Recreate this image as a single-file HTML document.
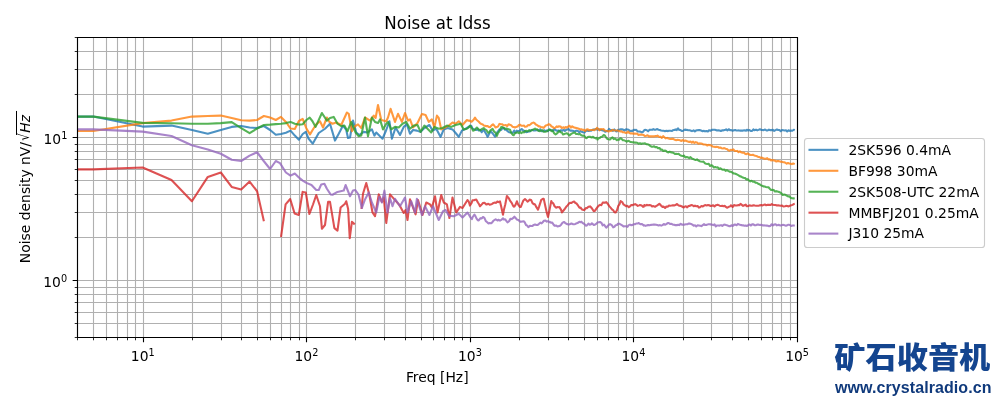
<!DOCTYPE html>
<html lang="en"><head><meta charset="utf-8"><title>Noise at Idss</title>
<style>html,body{margin:0;padding:0;background:#fff;overflow:hidden}svg{display:block}</style></head>
<body>
<svg width="1000" height="400" viewBox="0 0 1000 400">
<defs><clipPath id="axclip"><rect x="77.45" y="37.20" width="719.57" height="299.80"/></clipPath></defs>
<rect width="1000" height="400" fill="#ffffff"/>
<path d="M77.5 37.5V337.5M93.5 37.5V337.5M106.5 37.5V337.5M117.5 37.5V337.5M127.5 37.5V337.5M135.5 37.5V337.5M143.5 37.5V337.5M192.5 37.5V337.5M221.5 37.5V337.5M241.5 37.5V337.5M257.5 37.5V337.5M270.5 37.5V337.5M281.5 37.5V337.5M290.5 37.5V337.5M299.5 37.5V337.5M306.5 37.5V337.5M355.5 37.5V337.5M384.5 37.5V337.5M405.5 37.5V337.5M421.5 37.5V337.5M433.5 37.5V337.5M444.5 37.5V337.5M454.5 37.5V337.5M462.5 37.5V337.5M470.5 37.5V337.5M519.5 37.5V337.5M548.5 37.5V337.5M568.5 37.5V337.5M584.5 37.5V337.5M597.5 37.5V337.5M608.5 37.5V337.5M618.5 37.5V337.5M626.5 37.5V337.5M633.5 37.5V337.5M683.5 37.5V337.5M711.5 37.5V337.5M732.5 37.5V337.5M748.5 37.5V337.5M761.5 37.5V337.5M772.5 37.5V337.5M781.5 37.5V337.5M790.5 37.5V337.5M797.5 37.5V337.5M77.5 337.5H797.5M77.5 323.5H797.5M77.5 312.5H797.5M77.5 302.5H797.5M77.5 294.5H797.5M77.5 287.5H797.5M77.5 280.5H797.5M77.5 237.5H797.5M77.5 212.5H797.5M77.5 194.5H797.5M77.5 180.5H797.5M77.5 169.5H797.5M77.5 159.5H797.5M77.5 151.5H797.5M77.5 144.5H797.5M77.5 137.5H797.5M77.5 94.5H797.5M77.5 69.5H797.5M77.5 51.5H797.5M77.5 37.5H797.5" fill="none" stroke="#b0b0b0" stroke-width="1.11"/>
<g clip-path="url(#axclip)" fill="none" stroke-width="2.083" stroke-opacity="0.8" stroke-linejoin="round" stroke-linecap="butt">
<path d="M77.50 116.60L93.40 116.60L142.65 126.60L171.50 125.60L191.90 130.00L207.80 133.75L220.80 130.00L231.70 126.90L241.20 126.00L249.60 127.50L257.10 128.10L263.90 126.00L270.10 130.00L275.80 134.75L281.00 134.00L285.90 132.75L290.50 130.60L294.80 135.60L298.90 139.75L302.70 134.00L305.80 131.90L308.50 138.50L312.70 143.70L318.75 133.00L325.00 128.75L330.00 123.75L335.00 140.60L338.75 133.75L343.00 125.60L346.25 130.00L348.00 138.00L350.00 137.50L353.00 120.60L356.25 132.50L359.40 135.00L363.75 131.90L367.50 132.50L371.90 129.40L374.40 135.60L376.25 132.50L378.75 135.00L382.50 138.75L386.25 130.00L389.40 121.25L391.90 138.75L395.60 127.50L400.00 135.00L403.75 126.90L406.90 124.40L410.00 133.75L413.00 130.00L416.90 130.60L420.30 131.90L424.40 128.00L429.40 125.00L432.50 130.60L436.25 128.75L440.60 136.90L443.75 129.40L447.50 128.00L452.50 129.40L456.25 133.75L458.75 136.90L461.90 130.60L465.60 128.75L470.00 126.25L471.30 125.81L472.60 128.68L473.75 129.28L475.20 129.48L476.50 129.93L477.80 129.17L478.75 130.55L480.40 129.89L481.70 132.23L483.00 130.22L483.75 129.93L484.30 130.84L485.60 133.01L486.90 135.17L487.50 136.82L488.20 135.91L489.50 133.11L490.60 131.45L492.10 132.84L493.40 134.45L495.00 136.57L496.00 135.02L497.30 132.37L498.60 130.54L499.40 129.51L501.20 129.97L502.50 128.24L503.75 127.95L505.10 129.76L506.40 129.77L507.50 131.19L509.00 132.27L510.30 132.53L511.25 132.52L512.90 132.70L514.20 130.48L515.50 132.59L516.25 131.70L516.80 130.64L518.10 131.14L519.40 130.74L521.25 129.31L522.00 129.14L523.30 130.44L524.60 131.04L526.25 132.19L527.20 132.05L528.50 131.33L529.80 131.47L531.10 130.31L532.50 129.81L533.70 130.46L535.00 130.58L536.30 130.24L537.60 130.03L538.75 130.65L540.20 129.30L541.50 131.29L542.80 131.31L544.10 130.20L545.00 131.26L546.70 130.43L548.00 131.24L549.30 129.42L550.60 129.88L552.00 130.34L553.20 130.99L554.50 129.20L555.80 130.29L557.10 130.90L558.40 130.49L560.00 131.32L561.00 130.13L562.30 130.78L563.60 129.74L564.90 130.92L566.20 129.85L567.50 129.41L568.75 129.05L570.10 130.67L571.40 130.42L572.70 130.71L574.00 131.21L575.30 131.05L576.00 130.87L576.60 130.66L577.90 130.91L579.20 132.41L580.50 131.03L581.80 131.78L583.10 132.19L583.75 132.55L584.40 132.62L585.70 131.16L587.00 130.47L588.30 131.04L590.00 130.74L590.90 130.72L592.20 130.10L593.50 129.48L594.80 129.52L596.25 128.95L597.40 129.72L598.70 129.09L600.00 129.91L601.30 130.06L603.00 130.61L603.90 130.56L605.20 131.78L606.50 131.09L607.80 131.00L609.10 128.92L610.00 129.93L611.70 129.94L613.00 130.80L614.30 129.45L616.00 131.23L616.90 131.37L618.20 129.74L619.50 129.60L620.80 129.38L622.50 129.41L623.40 129.75L624.70 130.52L626.00 129.29L627.50 129.55L628.60 129.75L629.90 130.93L631.20 130.69L632.50 130.86L633.80 129.81L635.10 130.08L636.25 129.85L637.70 131.44L639.00 131.57L640.30 131.63L641.90 132.42L642.90 131.95L644.20 130.28L645.00 129.83L646.80 130.25L648.10 131.29L649.40 129.87L650.70 129.71L652.50 129.79L653.30 129.13L654.60 129.79L655.90 129.67L656.90 129.00L658.50 129.74L659.80 130.10L661.10 130.57L662.50 130.73L663.70 130.81L665.00 131.15L666.30 130.74L668.00 131.12L668.90 130.70L670.20 130.81L672.00 130.95L672.80 130.28L674.10 129.88L675.40 129.84L676.00 129.31L676.70 130.13L678.00 128.43L679.00 129.75L680.60 130.11L682.00 131.02L683.20 130.73L685.00 129.49L685.80 130.00L687.10 129.87L688.00 130.28L689.70 130.29L691.00 130.68L692.00 131.14L693.60 130.35L694.90 131.36L696.20 130.49L697.00 130.17L698.80 130.10L700.10 130.16L701.00 130.53L702.70 131.20L704.00 130.82L705.00 131.36L706.60 130.93L707.90 131.43L709.00 130.29L710.50 130.80L711.80 129.90L713.10 129.67L714.40 129.70L715.00 129.80L715.70 130.10L717.00 130.58L718.30 130.22L719.60 130.50L720.90 131.03L722.00 130.35L723.50 130.34L724.80 130.06L726.10 129.38L727.40 130.46L728.70 129.21L730.00 130.11L731.30 130.07L732.60 130.70L733.90 130.21L735.20 129.94L736.50 130.58L738.00 130.41L739.10 130.46L740.40 130.61L741.70 130.58L743.00 130.60L744.30 130.35L746.00 130.77L746.90 129.73L748.20 130.56L749.50 129.98L750.80 130.96L752.10 130.94L753.40 129.34L754.00 130.22L754.70 130.12L756.00 129.66L757.30 130.36L758.60 129.87L759.90 129.23L761.20 129.90L762.00 129.98L763.80 130.09L765.10 129.51L766.40 130.39L767.70 130.48L769.00 129.65L770.00 130.09L771.60 130.12L772.90 129.87L774.20 130.90L775.50 130.16L776.80 129.57L778.00 129.87L779.40 130.03L780.70 131.15L782.00 130.07L783.30 130.26L784.60 130.48L786.00 130.29L787.20 131.41L788.50 130.21L789.80 130.87L791.00 130.63L792.40 130.73L793.70 129.78L794.75 130.28" stroke="#1f77b4"/>
<path d="M77.50 131.00L93.40 131.00L142.65 123.10L171.50 120.60L191.90 116.60L207.80 116.00L220.80 115.60L231.70 118.10L241.20 120.25L249.60 120.60L257.10 120.00L263.90 116.00L270.10 117.50L275.80 120.00L281.00 116.90L285.90 121.90L290.50 128.50L294.80 129.00L298.90 121.00L302.70 118.90L306.40 128.50L310.00 134.40L313.20 129.00L316.25 124.40L320.00 121.25L323.00 127.50L326.90 117.50L329.40 121.90L332.50 123.75L336.25 122.50L341.25 125.00L346.90 112.50L348.75 113.75L351.90 131.25L355.00 126.25L358.00 124.40L361.25 128.00L365.00 117.50L370.00 120.60L373.75 115.60L375.60 118.00L378.00 105.00L381.25 120.00L386.25 121.25L388.00 117.50L390.60 108.75L395.00 121.90L398.00 113.75L401.90 121.90L405.00 113.00L408.00 120.60L410.00 119.40L413.00 127.50L417.50 123.00L421.90 114.00L425.60 115.00L428.75 121.90L431.90 119.40L434.40 127.50L436.90 115.60L438.75 118.00L441.25 129.40L445.00 127.50L448.75 125.60L452.50 122.50L455.60 123.75L458.75 121.25L462.50 125.00L466.90 120.00L468.20 120.59L469.50 120.58L471.25 121.75L472.10 121.24L473.40 119.97L475.00 117.66L476.00 119.32L477.30 120.46L478.60 121.48L480.00 123.17L481.20 123.98L482.50 124.24L483.80 125.41L485.00 125.87L486.40 126.10L487.70 126.09L489.00 127.07L490.00 127.30L491.60 125.44L493.00 124.38L494.20 125.46L495.50 127.51L496.25 127.12L496.80 127.17L498.10 126.36L499.40 123.87L500.00 124.06L500.70 124.33L502.00 124.17L503.30 125.09L505.00 125.28L505.90 125.05L507.20 126.15L508.50 124.23L510.00 124.78L511.10 125.14L512.40 126.71L513.70 127.09L515.00 127.54L516.30 126.88L517.60 126.55L518.90 124.98L520.00 124.72L521.50 125.79L522.80 125.68L524.10 125.56L525.00 126.76L526.70 126.55L528.00 125.12L529.30 125.30L530.00 124.71L530.60 124.23L531.90 123.13L533.20 122.62L534.40 122.99L535.80 124.56L537.10 125.17L538.75 126.36L539.70 126.32L541.00 127.21L542.30 127.22L543.75 127.93L544.90 126.42L546.20 125.32L547.50 125.02L548.75 124.17L550.10 124.68L551.40 126.43L552.70 126.79L553.75 128.09L555.30 127.65L556.60 126.42L557.90 126.91L558.75 126.32L560.50 126.47L561.80 127.96L563.10 127.32L563.75 127.38L564.40 128.23L565.70 126.96L567.00 127.72L568.75 126.12L569.60 125.74L570.90 127.57L572.20 126.32L573.50 127.32L575.00 127.79L576.10 127.90L577.40 128.18L578.70 128.68L580.00 129.50L581.25 129.24L582.60 129.84L583.90 129.91L585.20 131.01L586.50 129.57L587.80 129.33L589.10 130.36L590.00 129.92L591.70 130.00L593.00 129.79L594.30 130.25L595.60 129.09L596.25 129.38L596.90 127.94L598.20 128.89L599.50 130.28L600.80 129.01L602.50 129.26L603.40 129.04L604.70 130.54L606.00 130.80L607.50 131.02L608.60 131.40L609.90 130.92L611.20 130.93L612.50 129.89L613.75 130.34L615.10 130.50L616.40 130.47L617.70 130.50L619.00 130.91L620.00 131.42L621.60 131.37L622.90 132.32L624.20 132.27L625.50 132.90L626.80 132.83L627.50 132.49L628.10 131.56L629.40 132.98L630.70 133.46L632.00 133.34L633.30 133.77L635.00 133.66L635.90 133.70L637.20 133.61L638.50 135.06L639.80 134.63L641.10 134.51L642.50 134.75L643.70 135.06L645.00 136.06L646.30 135.70L647.60 135.23L648.90 136.51L650.00 136.16L651.50 136.37L652.80 136.23L654.10 136.39L655.40 136.04L656.70 136.12L657.50 135.56L659.30 136.95L660.60 136.64L661.90 137.90L663.20 136.18L665.00 137.83L665.80 138.33L667.10 137.88L668.40 138.49L669.70 138.86L671.00 138.99L672.30 138.65L673.60 139.06L674.90 139.86L676.20 140.20L677.50 139.83L678.80 140.04L680.10 140.32L681.40 140.94L682.70 140.13L683.30 140.52L684.00 140.93L685.30 140.56L686.60 141.04L687.90 141.60L689.20 142.02L690.50 141.49L691.80 142.63L693.10 141.61L694.40 142.96L695.70 142.16L697.00 142.54L698.30 143.69L699.60 143.41L700.90 143.45L702.20 143.85L703.50 144.52L704.80 144.50L706.10 144.74L707.40 145.49L708.70 144.86L710.00 145.21L711.50 145.61L712.60 146.50L713.90 146.69L715.20 147.11L716.50 146.76L717.80 146.97L719.10 147.74L720.40 147.42L721.70 148.28L723.00 148.51L724.30 148.11L725.60 148.68L726.90 148.94L728.20 150.10L729.50 150.79L730.80 149.79L732.50 150.20L733.40 149.35L734.70 150.86L736.00 151.08L737.30 150.91L738.60 152.11L739.90 151.34L741.20 152.30L742.50 152.80L743.80 152.47L745.10 153.79L746.40 154.21L747.70 153.40L748.50 154.02L750.30 154.95L751.60 154.96L752.90 154.72L754.20 155.45L755.50 155.84L756.80 156.13L758.10 156.88L759.40 156.98L760.70 157.93L761.30 157.47L762.00 157.74L763.30 158.24L764.60 158.67L765.90 158.71L767.20 158.13L768.50 159.41L769.80 159.37L771.10 160.40L772.50 160.02L773.70 160.47L775.00 160.64L776.30 161.51L777.60 161.07L778.90 161.12L780.20 161.64L781.50 161.68L782.80 162.10L784.10 162.30L785.40 162.70L786.70 163.73L788.00 162.94L789.30 163.42L790.70 163.67L791.90 164.15L793.20 163.47L794.75 164.17" stroke="#ff7f0e"/>
<path d="M77.50 116.60L93.40 116.60L142.65 122.90L171.50 123.25L191.90 123.75L207.80 123.75L220.80 123.10L231.70 122.10L241.20 128.10L249.60 133.10L257.10 128.50L263.90 125.00L270.10 124.60L275.80 124.10L281.00 123.75L285.90 123.10L290.50 121.90L294.80 123.75L298.90 124.60L302.70 124.20L306.40 120.00L309.70 117.70L312.50 121.25L315.60 126.90L321.90 113.00L326.90 120.60L330.00 118.00L333.75 116.90L337.50 123.75L341.25 126.25L344.40 125.60L347.50 131.25L351.25 121.90L355.60 132.50L358.75 136.25L361.25 135.60L365.00 117.50L368.00 136.25L371.90 117.50L375.00 121.90L378.00 123.00L380.00 119.40L383.00 129.40L386.25 123.75L388.00 121.90L391.25 129.40L395.00 126.90L398.75 127.50L402.50 123.75L406.25 121.90L410.00 128.75L413.75 125.60L417.50 125.00L420.60 131.90L424.40 125.60L427.50 128.75L431.25 132.50L434.40 126.90L438.75 128.75L442.50 128.00L446.90 125.60L451.25 126.90L455.60 125.00L460.60 123.75L463.75 129.40L466.90 128.75L468.20 127.76L470.00 125.59L470.80 126.63L472.10 128.58L473.00 130.71L474.70 130.11L476.00 128.41L476.90 127.54L478.60 129.47L480.00 130.40L481.20 129.58L482.50 128.71L483.75 128.06L485.10 129.41L486.40 130.08L488.00 132.73L489.00 132.67L490.30 130.43L491.60 129.74L492.50 128.81L494.20 131.86L495.50 132.54L496.90 135.93L498.10 132.92L499.40 131.35L501.25 126.92L502.00 126.95L503.30 127.58L504.60 128.67L506.25 128.57L507.20 128.85L508.50 129.22L510.00 129.65L511.10 132.60L512.40 134.34L513.00 135.00L513.70 135.20L515.00 133.06L516.30 132.68L517.50 132.26L518.90 133.17L520.20 131.92L521.25 133.06L522.80 132.11L524.10 132.47L525.00 131.15L526.70 130.90L528.00 131.22L529.30 130.17L530.00 130.64L530.60 130.84L531.90 130.17L533.20 129.65L535.00 128.63L535.80 129.35L537.10 129.28L538.40 130.77L540.00 131.12L541.00 130.52L542.30 130.13L543.75 131.81L544.90 131.68L546.20 131.58L547.50 131.10L548.75 129.84L550.10 129.75L551.40 131.16L552.50 130.38L554.00 133.07L555.60 134.35L556.60 133.84L557.90 132.51L559.40 130.76L560.50 132.24L561.80 132.56L563.00 134.46L564.40 133.91L565.70 133.61L566.90 133.25L568.30 134.30L569.40 135.46L570.90 134.11L572.20 133.43L573.75 132.65L574.80 132.43L576.10 134.06L577.40 134.05L578.75 134.35L580.00 134.03L581.30 135.36L582.50 135.74L583.90 135.45L585.60 137.74L586.50 138.19L587.80 137.07L589.10 136.79L590.00 136.73L591.70 137.52L593.00 136.74L593.75 137.50L594.30 137.69L595.60 138.35L596.90 137.75L597.50 139.55L598.20 138.54L599.50 138.09L600.80 137.00L602.10 136.66L603.75 134.94L604.70 135.39L606.00 137.28L607.30 138.91L608.75 139.34L609.90 139.58L611.20 138.31L612.50 137.40L613.80 139.09L615.10 138.52L616.90 140.20L617.70 139.49L619.00 139.64L620.30 138.34L621.25 138.59L622.90 140.16L624.20 140.33L625.50 140.90L626.25 141.17L626.80 141.60L628.10 140.86L629.40 141.27L630.70 142.05L632.50 142.34L633.30 142.18L634.60 142.60L635.90 142.65L637.20 142.69L638.50 143.79L640.00 143.19L641.10 143.89L642.40 143.50L643.70 143.52L645.00 143.30L646.30 144.16L647.50 144.22L648.90 144.74L650.20 145.86L651.50 146.72L652.80 146.80L654.10 146.27L655.00 147.09L656.70 147.00L658.00 148.14L659.30 147.97L660.00 148.35L660.60 149.80L661.90 149.58L663.20 150.92L665.00 150.63L665.80 150.67L667.10 151.89L668.40 152.47L669.70 151.70L671.00 152.40L672.50 152.55L673.60 153.02L674.90 153.93L676.20 153.82L677.50 153.95L678.80 153.91L680.10 155.16L681.40 155.75L682.70 156.02L683.30 155.94L684.00 155.50L685.30 157.40L686.60 156.92L687.90 157.28L689.20 158.12L690.50 157.12L691.80 158.56L693.10 158.93L694.40 159.59L695.00 159.83L695.70 160.05L697.00 159.35L698.30 160.49L699.60 161.17L700.90 161.56L702.50 161.78L703.50 161.61L704.80 163.21L706.10 163.65L707.40 164.00L708.70 163.72L710.00 165.94L711.50 165.21L712.60 165.91L713.90 167.55L715.20 166.93L716.50 167.57L717.80 167.36L719.10 169.03L720.40 168.22L722.00 169.44L723.00 169.76L724.30 169.58L725.60 170.89L726.90 170.17L728.20 170.91L729.50 171.60L730.80 171.80L732.50 172.58L733.40 173.38L734.70 173.45L736.00 173.97L737.30 174.62L738.60 175.34L740.00 176.33L741.20 176.63L742.50 177.51L743.80 177.86L745.10 178.08L746.40 179.47L747.70 179.16L748.50 180.00L750.30 181.43L751.60 180.76L752.90 181.78L754.20 181.60L755.50 182.63L756.80 182.71L758.10 183.77L759.40 184.22L760.70 185.07L761.30 185.51L762.00 185.66L763.30 186.36L764.60 186.55L765.90 186.99L767.20 187.24L768.50 187.31L769.80 188.70L771.10 189.94L772.50 189.83L773.70 190.00L775.00 191.55L776.30 191.14L777.60 191.59L778.90 191.86L780.20 192.52L781.50 193.46L782.80 195.01L784.10 194.59L785.40 194.81L786.70 195.60L788.00 196.37L789.30 196.28L790.70 197.72L791.90 198.25L793.20 198.34L794.75 198.53" stroke="#2ca02c"/>
<path d="M77.50 169.40L93.40 169.40L142.65 167.50L171.50 180.00L191.90 201.25L207.80 176.90L220.80 172.50L231.70 186.90L241.20 189.40L249.60 181.60L257.10 191.25L263.90 221.25M281.00 237.00L285.60 204.40L290.20 199.00L294.60 213.50L298.80 215.00L302.60 191.90L305.80 192.50L309.40 214.00L313.00 204.50L316.25 195.00L320.00 206.25L321.90 228.75L325.00 225.00L328.10 201.90L330.00 201.90L334.40 228.10L337.50 230.60L340.60 207.50L345.00 203.75L346.25 201.25L348.10 208.75L349.75 238.10L351.90 221.90L354.75 224.40M361.50 209.00L363.00 193.75L366.25 183.00L369.40 195.00L372.50 212.50L375.00 216.25L378.75 194.40L381.90 201.90L383.75 197.50L386.25 223.00L390.00 194.40L394.40 199.40L399.40 205.00L403.75 213.00L405.60 210.00L407.50 220.00L410.00 199.40L413.00 207.50L415.60 214.40L418.00 200.00L422.50 215.00L426.25 202.50L430.00 204.40L431.90 207.50L435.00 196.25L437.50 212.50L441.25 195.00L443.75 202.50L446.90 204.40L449.40 218.00L452.50 197.50L456.25 212.50L460.00 206.90L462.50 208.00L467.50 200.00L468.80 201.74L470.00 205.57L471.40 203.32L472.50 200.28L474.00 200.24L475.30 199.72L476.25 199.51L477.90 202.54L479.20 204.49L480.00 206.29L481.80 204.39L483.00 202.99L484.40 202.76L486.25 204.38L487.00 204.43L488.30 203.74L489.60 204.69L490.60 204.55L492.20 203.87L493.50 202.93L495.00 202.51L496.10 202.92L497.40 201.47L498.70 202.12L500.00 201.40L501.30 207.10L503.00 214.70L503.90 209.79L505.20 204.72L506.90 196.06L507.80 197.06L509.10 198.71L510.00 200.69L511.70 202.90L513.00 205.67L513.75 206.67L514.30 206.54L515.60 204.66L516.90 201.30L518.20 204.59L520.00 207.02L520.80 206.87L522.10 203.54L523.40 200.44L525.00 199.06L526.00 199.94L527.50 201.69L528.60 200.84L529.90 199.48L530.60 199.97L531.20 200.07L532.50 203.07L533.80 204.09L534.40 204.06L535.10 204.61L536.40 207.18L538.00 209.61L539.00 206.86L540.30 202.90L541.25 199.84L542.90 198.86L543.75 198.85L545.50 207.05L546.80 212.65L548.00 216.91L549.40 210.66L551.25 201.10L552.00 202.50L553.30 203.46L554.60 206.20L556.25 207.75L557.20 207.11L558.50 207.21L559.40 207.01L561.10 209.88L561.90 212.39L563.70 210.26L565.00 208.64L566.25 206.73L567.60 205.37L568.90 203.64L570.00 202.78L571.50 202.94L572.80 201.96L574.10 201.56L575.40 202.99L576.25 203.24L578.00 205.43L579.30 207.57L580.00 207.90L580.60 207.54L581.90 209.44L583.75 210.02L584.50 209.94L585.80 207.98L587.10 208.09L588.40 206.85L590.00 206.41L591.00 207.25L592.30 208.97L593.75 211.13L594.90 210.82L596.20 208.82L597.50 207.07L598.80 205.62L600.00 204.79L601.40 205.14L602.70 202.63L604.00 202.53L605.30 202.73L606.25 202.13L607.90 203.94L609.20 206.14L610.60 207.65L611.80 209.25L613.10 210.03L614.40 212.22L615.60 212.54L617.00 210.21L618.30 205.83L619.60 204.03L620.60 201.01L622.20 202.02L623.50 204.40L625.00 205.45L626.10 206.24L627.40 205.87L628.75 207.21L630.00 206.30L631.30 205.03L632.60 205.09L633.75 204.57L635.20 204.15L636.50 204.96L637.80 205.90L639.10 205.40L640.00 205.01L641.70 205.59L643.00 206.85L643.75 206.63L644.30 205.05L645.60 205.64L646.90 204.76L647.50 205.33L648.20 205.28L649.50 205.02L650.80 205.26L652.10 206.46L653.40 206.10L655.00 206.81L656.00 206.17L657.30 205.33L658.60 204.41L659.40 203.78L661.20 205.75L662.50 206.90L663.75 206.62L665.10 207.96L666.40 206.45L667.70 206.74L669.00 205.47L670.00 205.67L671.60 205.49L672.90 205.23L674.20 205.39L675.50 205.07L676.80 204.05L677.50 204.39L678.10 205.09L679.40 205.72L680.70 205.86L682.00 206.53L683.75 207.49L684.60 206.75L685.90 206.29L687.20 207.32L688.50 205.99L689.80 205.85L691.10 205.07L692.50 205.23L693.70 206.21L695.00 205.60L696.30 206.30L697.60 206.03L698.90 207.60L700.00 207.17L701.50 206.03L702.80 206.52L704.10 205.57L705.00 205.08L706.70 205.40L708.00 205.06L709.30 205.27L710.60 205.98L712.00 205.80L713.20 205.22L714.50 206.48L715.80 205.23L717.10 204.89L718.00 204.89L719.70 205.65L721.00 206.00L722.30 205.87L724.00 206.16L724.90 205.86L726.20 207.18L727.00 207.73L728.80 206.84L730.10 206.36L731.00 205.27L732.70 206.97L734.00 204.96L735.30 205.42L736.60 205.54L738.00 205.15L739.20 205.24L740.50 203.87L741.80 204.84L743.10 205.82L744.40 205.14L745.00 205.44L745.70 204.54L747.00 206.25L748.30 205.95L749.60 205.33L750.90 205.73L752.00 205.79L753.50 205.21L754.80 205.53L756.10 205.70L757.40 205.76L759.00 205.61L760.00 205.37L761.30 205.07L762.60 205.39L763.90 204.84L765.20 204.48L766.00 205.19L767.80 204.73L769.10 204.89L770.40 205.06L771.70 204.17L773.00 204.71L774.30 205.08L775.60 205.08L776.90 205.57L778.20 205.30L779.00 205.45L780.80 205.80L782.10 205.60L783.40 206.50L785.00 206.25L786.00 205.85L787.30 205.95L788.60 206.39L790.00 205.78L791.20 205.32L792.50 204.86L793.80 204.04L794.75 203.79" stroke="#d62728"/>
<path d="M77.50 129.40L93.40 129.40L142.65 131.60L171.50 136.00L191.90 145.30L207.80 149.40L220.80 153.75L231.70 159.75L241.20 161.00L249.60 155.60L257.10 152.25L263.90 161.25L270.10 169.00L275.80 161.00L280.00 163.10L285.90 172.50L290.50 175.60L294.80 173.50L298.90 177.50L302.70 180.60L306.40 182.90L311.50 185.00L316.25 190.00L318.75 190.00L321.25 184.40L324.40 183.75L326.90 188.75L330.60 194.40L332.50 194.75L337.50 191.90L343.75 190.60L345.60 185.00L350.00 196.25L353.00 190.60L355.30 190.00L358.50 194.50L361.90 208.00L365.00 199.40L368.75 192.50L371.90 202.50L376.25 212.50L379.40 196.90L381.90 202.50L384.40 190.60L387.50 212.50L390.00 198.00L392.50 206.25L395.00 198.75L400.00 206.25L405.00 197.50L407.50 212.50L411.25 201.25L415.00 212.50L416.90 198.75L421.90 215.00L425.00 206.25L429.40 215.00L433.00 206.25L438.75 220.00L443.00 211.25L445.60 210.00L448.75 215.60L453.75 216.25L458.75 213.75L462.50 217.50L467.50 212.50L468.80 214.48L470.10 216.77L471.90 219.17L472.70 217.00L474.40 214.65L475.30 215.91L476.60 218.64L477.90 220.22L478.75 220.39L480.50 218.16L481.80 218.43L483.00 217.00L484.40 217.84L485.70 220.90L487.50 222.54L488.30 223.40L489.60 222.99L491.25 223.19L492.20 222.41L493.50 220.58L494.80 219.93L495.60 219.26L497.40 220.47L498.70 219.80L499.40 220.28L500.00 220.58L501.30 219.92L503.00 218.30L503.90 219.55L505.20 219.32L506.50 221.10L507.50 222.39L509.10 221.20L510.40 218.88L511.70 219.09L513.00 218.21L514.40 216.71L515.60 217.91L516.90 219.55L518.20 219.89L520.00 221.47L520.80 221.85L522.10 221.50L523.75 221.33L524.70 222.30L526.00 224.98L527.30 225.70L528.00 226.76L528.60 227.11L529.90 225.80L531.20 226.01L532.50 225.92L533.80 224.88L535.00 224.42L536.40 224.94L537.70 224.85L538.75 224.09L540.30 222.67L541.60 223.39L542.90 222.02L543.75 220.83L545.50 220.66L546.80 221.59L548.10 221.14L549.40 222.12L550.00 221.92L550.70 222.61L552.00 222.42L553.30 224.22L554.60 225.77L556.25 225.44L557.20 226.37L558.50 226.18L560.00 225.73L561.10 224.65L562.40 222.92L563.70 221.99L564.40 222.06L565.00 222.82L566.30 223.71L567.60 224.31L568.75 224.59L570.20 224.04L571.50 223.48L572.80 224.18L574.10 224.24L575.40 223.89L576.25 223.45L578.00 222.82L579.30 221.79L580.60 222.24L581.25 221.69L581.90 222.24L583.20 223.38L584.50 224.12L585.80 225.68L586.90 225.38L588.40 223.58L589.70 224.70L591.00 224.29L591.90 223.29L593.75 225.06L594.90 224.75L596.20 223.87L597.50 222.42L598.80 222.19L600.00 222.00L601.40 222.84L602.70 225.42L604.00 224.63L605.30 226.42L606.25 227.73L607.90 225.81L609.20 224.44L610.00 224.14L611.80 225.21L613.10 227.33L613.75 226.99L614.40 226.72L615.70 225.18L617.00 224.98L618.00 223.78L619.60 223.83L620.90 224.55L622.20 225.38L623.50 226.37L625.00 226.25L626.10 226.32L627.40 226.89L628.70 225.10L630.00 224.60L631.25 225.19L632.60 224.89L633.90 224.26L635.20 224.11L636.50 223.44L637.80 223.55L638.75 222.94L640.40 224.30L641.70 223.93L643.00 224.80L643.75 225.63L644.30 225.33L645.60 225.86L646.90 225.38L648.20 225.03L649.50 225.33L650.80 224.86L652.50 224.72L653.40 224.43L654.70 224.61L656.00 224.78L657.30 225.07L658.60 225.49L660.00 225.11L661.20 225.65L662.50 225.10L663.80 224.06L665.10 224.69L666.40 224.16L667.70 223.03L668.75 223.06L670.30 223.98L671.60 223.90L672.90 224.64L674.20 224.67L675.50 225.17L676.25 224.95L676.80 225.17L678.10 224.70L679.40 225.10L680.70 223.84L682.00 224.73L683.75 224.62L684.60 224.62L685.90 224.19L687.20 224.33L688.50 223.52L690.00 223.62L691.10 224.04L692.40 224.66L693.70 225.72L695.00 225.34L696.25 226.43L697.60 225.32L698.90 225.51L700.20 225.69L701.50 226.08L702.80 225.04L704.10 224.11L705.00 225.08L706.70 224.91L708.00 224.33L709.30 224.27L710.60 224.37L712.00 224.62L713.20 225.14L714.50 224.33L715.80 226.35L717.10 225.45L718.00 225.55L719.70 225.63L721.00 225.12L722.30 225.95L724.00 224.69L724.90 224.65L726.20 225.08L727.50 225.47L729.00 226.15L730.10 226.25L731.40 225.27L732.70 226.00L734.00 224.85L735.00 224.58L736.60 225.18L737.90 223.88L739.20 224.46L741.00 225.11L741.80 225.16L743.10 225.36L744.40 225.77L745.70 225.52L747.00 225.98L748.30 225.04L749.60 224.45L750.90 225.57L752.20 224.20L753.00 224.29L754.80 225.22L756.10 225.18L757.40 224.55L758.70 224.66L760.00 224.99L761.30 224.67L762.60 225.46L763.90 225.36L765.20 225.45L767.00 225.63L767.80 225.77L769.10 226.16L770.40 225.88L771.70 224.26L773.00 225.33L774.00 224.63L775.60 224.30L776.90 225.39L778.20 224.86L779.50 225.14L781.00 225.58L782.10 225.05L783.40 224.87L784.70 225.35L786.00 225.69L787.30 225.30L788.00 224.76L788.60 224.74L789.90 225.00L791.20 225.99L792.50 225.56L793.80 225.57L794.75 225.26" stroke="#9467bd"/>
</g>
<path d="M143.5 337.50v4.86M306.5 337.50v4.86M470.5 337.50v4.86M633.5 337.50v4.86M797.5 337.50v4.86M77.50 280.5h-4.86M77.50 137.5h-4.86" fill="none" stroke="#000" stroke-width="1.11"/>
<path d="M77.5 337.50v2.78M93.5 337.50v2.78M106.5 337.50v2.78M117.5 337.50v2.78M127.5 337.50v2.78M135.5 337.50v2.78M192.5 337.50v2.78M221.5 337.50v2.78M241.5 337.50v2.78M257.5 337.50v2.78M270.5 337.50v2.78M281.5 337.50v2.78M290.5 337.50v2.78M299.5 337.50v2.78M355.5 337.50v2.78M384.5 337.50v2.78M405.5 337.50v2.78M421.5 337.50v2.78M433.5 337.50v2.78M444.5 337.50v2.78M454.5 337.50v2.78M462.5 337.50v2.78M519.5 337.50v2.78M548.5 337.50v2.78M568.5 337.50v2.78M584.5 337.50v2.78M597.5 337.50v2.78M608.5 337.50v2.78M618.5 337.50v2.78M626.5 337.50v2.78M683.5 337.50v2.78M711.5 337.50v2.78M732.5 337.50v2.78M748.5 337.50v2.78M761.5 337.50v2.78M772.5 337.50v2.78M781.5 337.50v2.78M790.5 337.50v2.78M77.50 337.5h-2.78M77.50 323.5h-2.78M77.50 312.5h-2.78M77.50 302.5h-2.78M77.50 294.5h-2.78M77.50 287.5h-2.78M77.50 237.5h-2.78M77.50 212.5h-2.78M77.50 194.5h-2.78M77.50 180.5h-2.78M77.50 169.5h-2.78M77.50 159.5h-2.78M77.50 151.5h-2.78M77.50 144.5h-2.78M77.50 94.5h-2.78M77.50 69.5h-2.78M77.50 51.5h-2.78M77.50 37.5h-2.78" fill="none" stroke="#000" stroke-width="0.83"/>
<path d="M77.5 37.5H797.5M77.5 337.5H797.5M77.5 37.5V337.5M797.5 37.5V337.5" fill="none" stroke="#000" stroke-width="1.11" stroke-linecap="square"/>
<rect x="804.50" y="138.50" width="180.00" height="109.00" rx="2.8" ry="2.8" fill="#ffffff" fill-opacity="0.8" stroke="#cccccc" stroke-width="1.11"/>
<path d="M809.52 149.84H837.30" stroke="#1f77b4" stroke-opacity="0.8" stroke-width="2.083" stroke-linecap="square" fill="none"/>
<path d="M809.52 170.78H837.30" stroke="#ff7f0e" stroke-opacity="0.8" stroke-width="2.083" stroke-linecap="square" fill="none"/>
<path d="M809.52 191.73H837.30" stroke="#2ca02c" stroke-opacity="0.8" stroke-width="2.083" stroke-linecap="square" fill="none"/>
<path d="M809.52 212.67H837.30" stroke="#d62728" stroke-opacity="0.8" stroke-width="2.083" stroke-linecap="square" fill="none"/>
<path d="M809.52 233.61H837.30" stroke="#9467bd" stroke-opacity="0.8" stroke-width="2.083" stroke-linecap="square" fill="none"/>
<g font-family="'DejaVu Sans', 'Liberation Sans', sans-serif" fill="#000">
<text x="130.84" y="361" font-size="13.889">10<tspan dy="-5" font-size="9.722">1</tspan></text>
<text x="294.47" y="361" font-size="13.889">10<tspan dy="-5" font-size="9.722">2</tspan></text>
<text x="458.00" y="361" font-size="13.889">10<tspan dy="-5" font-size="9.722">3</tspan></text>
<text x="621.53" y="361" font-size="13.889">10<tspan dy="-5" font-size="9.722">4</tspan></text>
<text x="785.21" y="361" font-size="13.889">10<tspan dy="-5" font-size="9.722">5</tspan></text>
<text x="437.23" y="381.88" text-anchor="middle" font-size="13.889">Freq [Hz]</text>
<text x="43.23" y="287" font-size="13.889">10<tspan dy="-5" font-size="9.722">0</tspan></text>
<text x="43.48" y="144" font-size="13.889">10<tspan dy="-5" font-size="9.722">1</tspan></text>
<g transform="translate(30.88 263.16) rotate(-90)"><text x="0" y="-0.45" font-size="13.889">Noise density nV/</text><text transform="translate(122.3 -2.3) scale(0.8 1)" font-size="14.4">√</text><text x="130.4" y="-1.08" font-size="13.889" font-style="oblique">Hz</text><rect x="128.2" y="-14.88" width="24" height="1"/></g>
<text transform="translate(437.53 28.87) scale(1 1.075)" text-anchor="middle" font-size="16.667">Noise at Idss</text>
<text x="848.41" y="154.70" font-size="13.889">2SK596 0.4mA</text>
<text x="848.41" y="175.64" font-size="13.889">BF998 30mA</text>
<text x="848.41" y="196.59" font-size="13.889">2SK508-UTC 22mA</text>
<text x="848.41" y="217.53" font-size="13.889">MMBFJ201 0.25mA</text>
<text x="848.41" y="238.48" font-size="13.889">J310 25mA</text>
</g>
<text x="834.3" y="367.8" font-family="'Liberation Sans', 'Noto Sans CJK SC', sans-serif" font-weight="900" font-size="29.5" fill="#14458f" textLength="156" lengthAdjust="spacingAndGlyphs">矿石收音机</text>
<text x="835" y="392.5" font-family="'Liberation Sans', sans-serif" font-weight="bold" font-size="16" fill="#103a7c" textLength="156.5" lengthAdjust="spacing">www.crystalradio.cn</text>
</svg>
</body></html>
